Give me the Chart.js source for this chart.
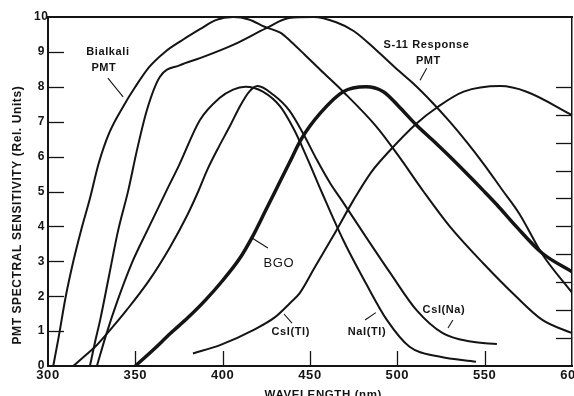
<!DOCTYPE html>
<html lang="en">
<head>
<meta charset="UTF-8">
<title>PMT spectral sensitivity and scintillator emission</title>
<script src="https://cdn.jsdelivr.net/npm/chart.js"></script>
<style>
  html, body { margin: 0; padding: 0; background: #fff; overflow: hidden; }
  #wrap { width: 574px; height: 404px; }
</style>
</head>
<body>
<div id="wrap"><canvas id="myChart" width="574" height="404"></canvas></div>
<script>
// values: wavelength (nm) and relative units (left axis)
const bialkaliNm  = [303, 306, 310, 314.5, 319, 324, 329, 335, 343, 350, 358, 367, 377, 387, 396, 406, 415, 424, 433, 439, 447, 456, 469, 488, 501, 515, 530, 549, 568, 583, 600];
const bialkaliVal = [0, 0.8, 1.95, 3.0, 3.9, 4.8, 5.8, 6.67, 7.43, 8.0, 8.57, 9.0, 9.34, 9.65, 9.91, 10.0, 9.93, 9.72, 9.55, 9.3, 8.92, 8.48, 7.86, 6.86, 6.0, 5.0, 4.0, 2.95, 1.99, 1.32, 0.94];

const s11Nm  = [324, 327, 330, 335, 340, 346, 351, 356.6, 364, 375.6, 387, 406, 425, 438, 452, 465, 475, 488, 501, 509, 520, 530, 540, 550, 560, 570, 583, 600];
const s11Val = [0, 0.7, 1.35, 2.6, 3.85, 5.04, 6.2, 7.33, 8.28, 8.62, 8.82, 9.2, 9.68, 9.97, 10.0, 9.85, 9.6, 9.05, 8.45, 8.1, 7.55, 7.0, 6.4, 5.75, 5.05, 4.35, 3.2, 2.1];

const naiNm  = [328, 333, 340, 348, 357, 368, 375, 387, 398, 406, 413, 423, 433, 441, 448, 457, 469, 482, 494, 507, 524, 545];
const naiVal = [0, 0.85, 1.9, 2.95, 3.9, 5.04, 5.75, 7.05, 7.67, 7.92, 8.0, 7.86, 7.43, 6.76, 6.0, 4.95, 3.61, 2.37, 1.32, 0.55, 0.27, 0.12];

const csiNaNm  = [314.5, 322, 327, 335, 345, 358, 370, 380, 386, 391, 398, 404, 410, 415, 420, 429, 438, 446, 454, 462, 468, 482, 496, 511, 526, 542, 557];
const csiNaVal = [0, 0.33, 0.55, 1.0, 1.6, 2.46, 3.42, 4.35, 5.0, 5.6, 6.3, 6.86, 7.45, 7.85, 8.02, 7.77, 7.33, 6.67, 5.9, 5.2, 4.76, 3.7, 2.66, 1.6, 0.94, 0.7, 0.63];

const bgoNm  = [350, 360, 370, 380, 390, 400, 410, 417, 425, 432, 438, 445, 456, 469, 482, 492, 501, 510, 520, 530, 540, 549, 557, 568, 583, 600];
const bgoVal = [0, 0.45, 0.93, 1.38, 1.88, 2.45, 3.1, 3.7, 4.5, 5.2, 5.8, 6.5, 7.25, 7.86, 8.0, 7.86, 7.43, 6.95, 6.48, 6.0, 5.5, 5.04, 4.62, 4.0, 3.23, 2.7];

const csiTlNm  = [383, 398.5, 417.5, 430, 438.5, 444, 453, 463, 475, 485, 496, 511, 522.5, 538, 559, 574, 600];
const csiTlVal = [0.36, 0.6, 1.03, 1.4, 1.8, 2.08, 2.85, 3.7, 4.76, 5.55, 6.19, 6.95, 7.4, 7.86, 8.02, 7.86, 7.19];

const wavelengthTicks  = [300, 350, 400, 450, 500, 550, 600];
const sensitivityTicks = [0, 1, 2, 3, 4, 5, 6, 7, 8, 9, 10];
const emissionTicks    = [0, 1, 2, 3, 4, 5, 6, 7, 8, 9, 10];   // unlabelled right scale, 10 = left 8

const ink = '#141414';
const sans = "'Liberation Sans', Arial, sans-serif";

// curve labels, placed in data units (nm, rel. units)
const notes = [
  { text: 'Bialkali', at: [334.3, 9.0], font: 'bold 11px ' + sans },
  { text: 'PMT', at: [332, 8.54], font: 'bold 11px ' + sans },
  { text: 'S-11 Response', at: [516.7, 9.2], font: 'bold 11px ' + sans },
  { text: 'PMT', at: [517.8, 8.74], font: 'bold 11px ' + sans },
  { text: 'BGO', at: [432.2, 2.95], font: '13px ' + sans },
  { text: 'CsI(Tl)', at: [439, 0.97], font: 'bold 11px ' + sans },
  { text: 'NaI(Tl)', at: [482.6, 0.97], font: 'bold 11px ' + sans },
  { text: 'CsI(Na)', at: [526.7, 1.6], font: 'bold 11px ' + sans }
];
const arrows = [
  [[334.3, 8.25], [343, 7.71]],
  [[516.8, 8.53], [513, 8.19]],
  [[425.9, 3.38], [416.8, 3.67]],
  [[439.7, 1.23], [435.1, 1.49]],
  [[481.5, 1.32], [487.7, 1.53]],
  [[531.8, 1.32], [529, 1.09]]
];

function pts(xs, ys) {
  return xs.map((x, i) => ({ x: x, y: ys[i] }));
}

function curve(label, xs, ys, width) {
  return {
    label: label,
    data: pts(xs, ys),
    borderColor: ink,
    borderWidth: width,
    pointRadius: 0,
    showLine: true,
    fill: false,
    cubicInterpolationMode: 'monotone'
  };
}

const frame = {
  id: 'frame',
  beforeDraw(chart) {
    chart.ctx.letterSpacing = '0.6px';
  },
  afterDatasetsDraw(chart) {
    const { ctx, chartArea: a, scales } = chart;
    const x = scales.x, y = scales.y, y2 = scales.y2;
    const seg = (x1, y1, x2, y2_) => {
      ctx.beginPath(); ctx.moveTo(x1, y1); ctx.lineTo(x2, y2_); ctx.stroke();
    };
    ctx.save();
    ctx.strokeStyle = ink;
    ctx.lineWidth = 2;
    seg(a.left - 1, a.top, a.right + 1, a.top);

    // tick marks point into the plot
    ctx.lineWidth = 1.3;
    x.ticks.forEach(t => {
      if (t.value > x.min && t.value < x.max) {
        const px = Math.round(x.getPixelForValue(t.value)) + 0.5;
        seg(px, a.bottom, px, a.bottom - 15);
      }
    });
    y.ticks.forEach(t => {
      if (t.value > y.min && t.value < y.max) {
        const py = Math.round(y.getPixelForValue(t.value)) + 0.5;
        seg(a.left, py, a.left + 16, py);
      }
    });
    y2.ticks.forEach(t => {
      if (t.value > 0) {
        const py = Math.round(y2.getPixelForValue(t.value)) + 0.5;
        seg(a.right, py, a.right - 16, py);
      }
    });

    ctx.lineWidth = 1.1;
    arrows.forEach(([p, q]) => {
      seg(x.getPixelForValue(p[0]), y.getPixelForValue(p[1]),
          x.getPixelForValue(q[0]), y.getPixelForValue(q[1]));
    });

    ctx.fillStyle = ink;
    ctx.textAlign = 'center';
    ctx.textBaseline = 'middle';
    notes.forEach(n => {
      ctx.font = n.font;
      ctx.fillText(n.text, x.getPixelForValue(n.at[0]), y.getPixelForValue(n.at[1]));
    });
    ctx.restore();
  }
};

new Chart(document.getElementById('myChart'), {
  type: 'scatter',
  data: {
    datasets: [
      curve('Bialkali PMT', bialkaliNm, bialkaliVal, 2),
      curve('S-11 Response PMT', s11Nm, s11Val, 2),
      curve('NaI(Tl)', naiNm, naiVal, 2),
      curve('CsI(Na)', csiNaNm, csiNaVal, 2),
      curve('CsI(Tl)', csiTlNm, csiTlVal, 2),
      curve('BGO', bgoNm, bgoVal, 3.5)
    ]
  },
  options: {
    responsive: false,
    animation: false,
    devicePixelRatio: 1,
    layout: { padding: { top: 17, left: 0, right: 0, bottom: 0 } },
    plugins: {
      legend: { display: false },
      tooltip: { enabled: false }
    },
    scales: {
      x: {
        type: 'linear',
        position: 'bottom',
        min: 300,
        max: 600,
        afterBuildTicks: s => { s.ticks = wavelengthTicks.map(v => ({ value: v })); },
        afterFit: s => { s.height = 38; s.paddingLeft = 0; s.paddingRight = 0; },
        ticks: {
          color: ink,
          padding: 2,
          maxRotation: 0,
          autoSkip: false,
          font: { family: sans, size: 13, weight: 'bold' }
        },
        grid: { drawOnChartArea: false, drawTicks: false },
        border: { display: true, color: ink, width: 2 },
        title: {
          display: true,
          text: '       WAVELENGTH (nm)',
          color: ink,
          padding: { top: 0, bottom: 2 },
          font: { family: sans, size: 11.5, weight: 'bold' }
        }
      },
      y: {
        position: 'left',
        min: 0,
        max: 10,
        afterBuildTicks: s => { s.ticks = sensitivityTicks.map(v => ({ value: v })); },
        afterFit: s => { s.width = 48; s.paddingTop = 0; s.paddingBottom = 0; },
        ticks: {
          color: ink,
          padding: 0,
          crossAlign: 'center',
          font: { family: sans, size: 12, weight: 'bold' }
        },
        grid: { drawOnChartArea: false, drawTicks: false },
        border: { display: true, color: ink, width: 2 },
        title: {
          display: true,
          text: 'PMT SPECTRAL SENSITIVITY (Rel. Units)            ',
          color: ink,
          padding: { top: 10, bottom: 0 },
          font: { family: sans, size: 12, weight: 'bold' }
        }
      },
      y2: {
        position: 'right',
        min: 0,
        max: 12.5,
        afterBuildTicks: s => { s.ticks = emissionTicks.map(v => ({ value: v })); },
        afterFit: s => { s.width = 2; s.paddingTop = 0; s.paddingBottom = 0; },
        ticks: { display: false },
        grid: { drawOnChartArea: false, drawTicks: false },
        border: { display: true, color: ink, width: 1.5 }
      }
    }
  },
  plugins: [frame]
});
</script>
</body>
</html>
